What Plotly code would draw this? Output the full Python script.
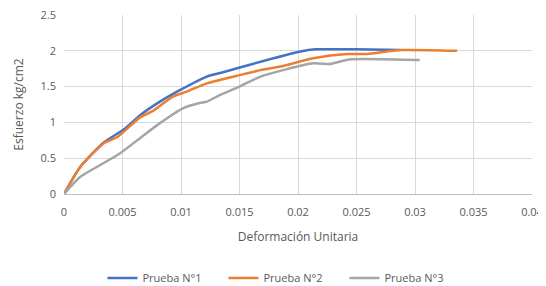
import plotly.graph_objects as go

x_ticks = [0, 0.005, 0.01, 0.015, 0.02, 0.025, 0.03, 0.035, 0.04]
y_ticks = [0, 0.5, 1, 1.5, 2, 2.5]

p1_x = [0, 0.0014, 0.0034, 0.0051, 0.0065, 0.0082, 0.0099, 0.0122, 0.0136, 0.0162, 0.0202, 0.0215, 0.025, 0.0287]
p1_y = [0, 0.38, 0.72, 0.90, 1.10, 1.29, 1.45, 1.64, 1.70, 1.82, 1.99, 2.02, 2.02, 2.01]

p2_x = [0, 0.0014, 0.0034, 0.0046, 0.0065, 0.0076, 0.0093, 0.0105, 0.0122, 0.0150, 0.0168, 0.0185, 0.0213, 0.0242, 0.0259, 0.0287, 0.0336]
p2_y = [0, 0.38, 0.71, 0.80, 1.07, 1.16, 1.36, 1.43, 1.545, 1.66, 1.73, 1.78, 1.895, 1.955, 1.955, 2.01, 2.0]

p3_x = [0, 0.0014, 0.0031, 0.0048, 0.0065, 0.0082, 0.0102, 0.0116, 0.0122, 0.0133, 0.0150, 0.0168, 0.0213, 0.0227, 0.0244, 0.0304]
p3_y = [0, 0.24, 0.405, 0.57, 0.78, 0.99, 1.20, 1.27, 1.29, 1.38, 1.50, 1.64, 1.825, 1.815, 1.88, 1.87]

names = ["Prueba N°1", "Prueba N°2", "Prueba N°3"]
colors = ["#4472C4", "#ED7D31", "#A5A5A5"]

fig = go.Figure()
for xs, ys, n, c in zip([p1_x, p2_x, p3_x], [p1_y, p2_y, p3_y], names, colors):
    fig.add_trace(go.Scatter(x=xs, y=ys, name=n, mode="lines",
                             line=dict(color=c, width=2.5, shape="spline", smoothing=0.6)))

font = "Open Sans, Liberation Sans, sans-serif"
fig.update_layout(
    width=546, height=294,
    margin=dict(l=56, r=22, t=7, b=108),
    paper_bgcolor="white", plot_bgcolor="white",
    font=dict(family=font, size=11, color="#595959"),
    showlegend=True,
    legend=dict(orientation="h", x=0.47, xanchor="center", y=-0.469, yanchor="middle",
                font=dict(size=11, color="#595959"), itemwidth=30, tracegroupgap=0,
                entrywidth=76, entrywidthmode="pixels"),
    xaxis=dict(range=[0, 0.04], tickvals=x_ticks, ticktext=[str(v) if v else "0" for v in x_ticks],
               showgrid=True, gridcolor="#d9d9d9", gridwidth=1, zeroline=False,
               showline=True, linecolor="#bfbfbf", linewidth=1, ticks="",
               ticklabelstandoff=8, automargin=False, ticklabeloverflow="allow",
               title=dict(text="Deformación Unitaria", font=dict(size=12, color="#595959"), standoff=14)),
    yaxis=dict(range=[0, 2.5], tickvals=y_ticks, ticktext=[("%g" % v) for v in y_ticks],
               showgrid=True, gridcolor="#d9d9d9", gridwidth=1, zeroline=False,
               showline=False, ticks="",
               ticklabelstandoff=7, automargin=False, ticklabeloverflow="allow",
               title=dict(text="Esfuerzo kg/cm2", font=dict(size=12, color="#595959"), standoff=14)),
)
fig.write_html("out.html")
